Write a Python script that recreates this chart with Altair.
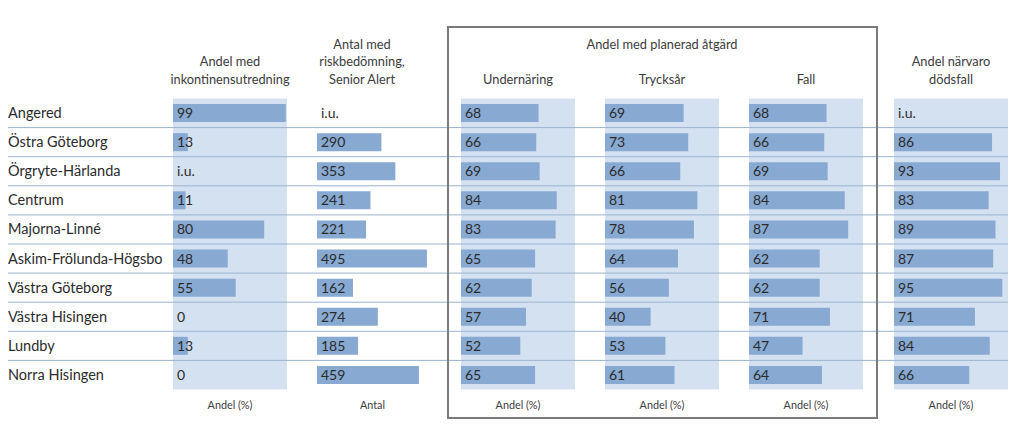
import altair as alt
import pandas as pd

# ---------------- data ----------------
districts = ["Angered", "Östra Göteborg", "Örgryte-Härlanda", "Centrum", "Majorna-Linné",
             "Askim-Frölunda-Högsbo", "Västra Göteborg", "Västra Hisingen", "Lundby", "Norra Hisingen"]

inkontinens = [99, 13, None, 11, 80, 48, 55, 0, 13, 0]
antal_risk = [None, 290, 353, 241, 221, 495, 162, 274, 185, 459]
undernaring = [68, 66, 69, 84, 83, 65, 62, 57, 52, 65]
trycksar = [69, 73, 66, 81, 78, 64, 56, 40, 53, 61]
fall = [68, 66, 69, 84, 87, 62, 62, 71, 47, 64]
narvaro = [None, 86, 93, 83, 89, 87, 95, 71, 84, 66]

series = {
    "inkontinens": inkontinens,
    "antal": antal_risk,
    "undernaring": undernaring,
    "trycksar": trycksar,
    "fall": fall,
    "narvaro": narvaro,
}
footers = {"inkontinens": "Andel (%)", "antal": "Antal", "undernaring": "Andel (%)",
           "trycksar": "Andel (%)", "fall": "Andel (%)", "narvaro": "Andel (%)"}

rows = []
for key, vals in series.items():
    for d, v in zip(districts, vals):
        rows.append({"district": d, "metric": key,
                     "value": v, "label": "i.u." if v is None else str(v)})
df = pd.DataFrame(rows)

# ---------------- layout / style ----------------
# column: (range start px, range end px, domain max, has background panel)
layout = {
    "inkontinens": (165, 279, 100, True),
    "antal": (309, 420, 500, False),
    "undernaring": (453, 567, 100, True),
    "trycksar": (597, 711, 100, True),
    "fall": (741, 855, 100, True),
    "narvaro": (886, 1000, 100, True),
}
PANEL = "#d3e1f1"
BAR = "#87a9d2"
LINE = "#9bb2cf"
TXT = "#2b2b2b"
HDR = "#3c3c3c"
FONT = "Lato"

W, H = 1007, 412
yscale = alt.Scale(domain=districts, range=[90.5, 381.5], paddingInner=0, paddingOuter=0)
Y = alt.Y("district:N", scale=yscale, axis=None)

base = alt.Chart(df)
panels, bars, texts = [], [], []
one = pd.DataFrame({"k": [0]})
headers = []
for key, (x0, x1, dmax, panel) in layout.items():
    sc = alt.Scale(domain=[0, dmax], range=[x0, x1], zero=True, nice=False)
    sub = base.transform_filter(alt.datum.metric == key)
    if panel:
        panels.append(sub.mark_bar(color=PANEL).encode(
            x=alt.X(datum=0, type="quantitative", scale=sc, axis=None),
            x2=alt.X2(datum=dmax),
            y=Y))
    bars.append(sub.transform_filter("isValid(datum.value)").mark_bar(color=BAR, size=18).encode(
        x=alt.X("value:Q", scale=sc, axis=None),
        y=Y))
    texts.append(sub.mark_text(align="left", baseline="middle", dx=4, dy=1, font=FONT,
                               fontSize=14, color=TXT).encode(
        x=alt.X(datum=0, type="quantitative", scale=sc, axis=None),
        y=Y,
        text="label:N"))
    headers.append(alt.Chart(one).mark_text(align="center", baseline="middle", font=FONT,
                                            fontSize=10.8, color=HDR).encode(
        x=alt.X(datum=dmax / 2, type="quantitative", scale=sc, axis=None),
        y=alt.value(398),
        text=alt.value(footers[key])))

# row labels
labels = alt.Chart(pd.DataFrame({"district": districts})).mark_text(
    align="left", baseline="middle", font=FONT, fontSize=14.5, color=TXT, dy=1
).encode(x=alt.value(0), y=Y, text="district:N")

# separator lines between rows
rules = alt.Chart(pd.DataFrame({"district": districts[:-1]})).mark_rule(
    color=LINE, strokeWidth=1
).encode(y=alt.Y("district:N", scale=yscale, axis=None, bandPosition=1),
         x=alt.value(0), x2=alt.value(1000))


def htext(text, x, y, size=12.8):
    return alt.Chart(one).mark_text(align="center", baseline="middle", font=FONT,
                                    fontSize=size, color=HDR).encode(
        x=alt.value(x), y=alt.value(y), text=alt.value(text))


titles = [
    htext("Andel med", 222, 54), htext("inkontinensutredning", 222, 72),
    htext("Antal med", 354, 37), htext("riskbedömning,", 354, 54), htext("Senior Alert", 354, 72),
    htext("Andel med planerad åtgärd", 654, 37),
    htext("Undernäring", 510, 72), htext("Trycksår", 654, 72), htext("Fall", 798, 72),
    htext("Andel närvaro", 943, 54), htext("dödsfall", 943, 72),
]

box = alt.Chart(one).mark_rect(filled=False, stroke="#7a7a7a", strokeWidth=2).encode(
    x=alt.value(440), x2=alt.value(869), y=alt.value(19), y2=alt.value(410))

chart = alt.layer(
    *panels, rules, *bars, *texts, labels, *headers, *titles, box
).resolve_scale(x="independent").properties(
    width=W, height=H, padding=0, autosize=alt.AutoSizeParams(type="none")
).configure_view(stroke=None)

chart.save("out.html", embed_options={"renderer": "svg", "actions": False})
